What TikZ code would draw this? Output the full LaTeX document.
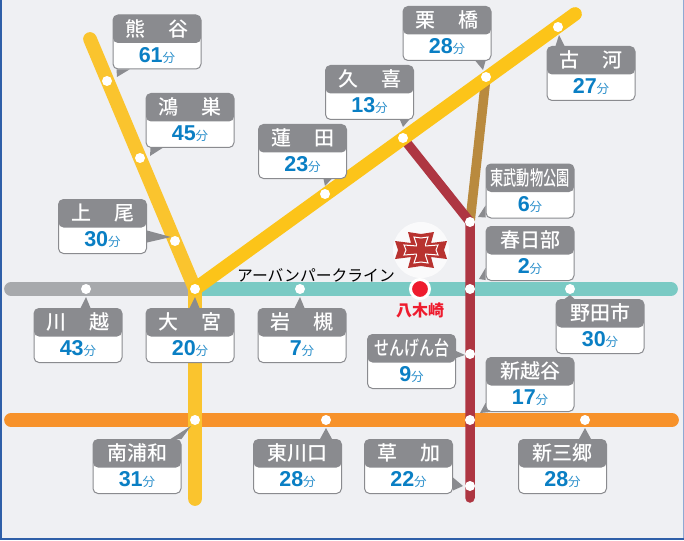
\documentclass[tikz,border=0pt]{standalone}
\usepackage{fontspec}
\setmainfont{Liberation Sans}
\newfontfamily\jpfont{Noto Sans CJK JP}
\newfontfamily\jpmedium{Noto Sans CJK JP Medium}
\usetikzlibrary{calc,backgrounds}

\definecolor{paper}{HTML}{EFF0F3}
\definecolor{headgray}{HTML}{8A8B8F}
\definecolor{minblue}{HTML}{0A7FC4}
\definecolor{funblue}{HTML}{2A8FCB}
\definecolor{takasaki}{HTML}{FAC42E}
\definecolor{utsunomiya}{HTML}{FCC419}
\definecolor{kawagoeline}{HTML}{A7A9AC}
\definecolor{urbanpark}{HTML}{7ACAC4}
\definecolor{musashino}{HTML}{F7922A}
\definecolor{tobuline}{HTML}{AE3642}
\definecolor{nikkoline}{HTML}{B98A3E}
\definecolor{yagired}{HTML}{EE1C2E}
\definecolor{crestred}{HTML}{B8322F}
\definecolor{frameblue}{HTML}{2F5FA8}
\definecolor{frameside}{HTML}{8FA9D3}

\tikzset{
  stop/.style={circle,fill=white,inner sep=0pt,minimum size=10pt},
  farebox/.style={draw=headgray,line width=1pt,fill=white,rounded corners=5pt,anchor=north west,
    minimum width=88pt,minimum height=54pt,inner sep=0pt,
    path picture={\fill[headgray] (path picture bounding box.north west) rectangle
      ($(path picture bounding box.north east)+(0,28)$);}},
  titletext/.style={text=white,font=\jpmedium\fontsize{20}{20}\selectfont,inner sep=0pt},
  minstext/.style={text=minblue,font=\bfseries\fontsize{21.5}{21.5}\selectfont,inner sep=0pt},
  tail/.style={fill=headgray},
  railline/.style={line width=13.7pt,line cap=round},
  thinline/.style={line width=9.5pt,line cap=round}
}

% #1 name, #2 top left corner, #3 title, #4 minutes
\newcommand\farenode[4]{
  \node[farebox] (#1B) at (#2) {};
  \node[titletext] (#1T) at ($(#1B.north)+(0,14)$) {#3};
  \node[minstext] (#1M) at ($(#1B.north)+(0,41)$) {#4{\jpfont\mdseries\color{funblue}\fontsize{12.5}{12.5}\selectfont 分}};
}
\newcommand\gap{\hspace{23pt}}

\begin{document}
\begin{tikzpicture}[x=1pt,y=-1pt]
\useasboundingbox (0,0) rectangle (684,540);

 % Stops
\node[stop] (kumagaya) at (107,81) {};
\node[stop] (konosu) at (140,158) {};
\node[stop] (ageo) at (175,241) {};
\node[stop] (omiya) at (195,289) {};
\node[stop] (hasuda) at (325,194) {};
\node[stop] (kuki) at (403,138) {};
\node[stop] (kurihashi) at (486,77) {};
\node[stop] (koga) at (558,27) {};
\node[stop] (dobutsu) at (470,222) {};
\node[stop] (kasukabe) at (470,289) {};
\node[stop] (kawagoe) at (86,289) {};
\node[stop] (iwatsuki) at (300,289) {};
\node[stop] (noda) at (570,289) {};
\node[stop] (sengendai) at (470,354) {};
\node[stop] (koshigaya) at (470,420) {};
\node[stop] (urawa) at (195,420) {};
\node[stop] (kawaguchi) at (326,420) {};
\node[stop] (soka) at (470,486) {};
\node[stop] (misato) at (585,420) {};

\coordinate (takasakiEnd) at (90,39);
\coordinate (kyotoEnd) at (195,499);
\coordinate (utsuEnd) at (575,14);
\coordinate (kawagoeEnd) at (11,289);
\coordinate (parkEnd) at (671,289);
\coordinate (musaWest) at (11,420);
\coordinate (musaEast) at (672,420);
\coordinate (tobuEnd) at (470,498);

 % Fare boxes
\farenode{kumagaya}{112.5,14.5}{熊\gap 谷}{61}
\farenode{konosu}{145.5,93}{鴻\gap 巣}{45}
\farenode{ageo}{58,199}{上\gap 尾}{30}
\farenode{hasuda}{258,124}{蓮\gap 田}{23}
\farenode{kuki}{325,65}{久\gap 喜}{13}
\farenode{kurihashi}{402.5,6}{栗\gap 橋}{28}
\farenode{koga}{546.5,46}{古\gap 河}{27}
\farenode{dobutsu}{485.5,163.5}{\scalebox{0.66}[1]{東武動物公園}}{6}
\farenode{kasukabe}{485.5,226}{春日部}{2}
\farenode{kawagoe}{33.5,308}{川\gap 越}{43}
\farenode{omiya}{145.5,308}{大\gap 宮}{20}
\farenode{iwatsuki}{257.5,308}{岩\gap 槻}{7}
\farenode{noda}{555.5,299}{野田市}{30}
\farenode{sengendai}{367,334}{\scalebox{0.75}[1]{せんげん台}}{9}
\farenode{koshigaya}{485.5,357}{新越谷}{17}
\farenode{urawa}{92.5,439}{南浦和}{31}
\farenode{kawaguchi}{253,439}{東川口}{28}
\farenode{soka}{364,439}{草\gap 加}{22}
\farenode{misato}{518,439}{新三郷}{28}

 % Yagisaki and the crest
\node[circle,fill=yagired,draw=white,line width=3pt,minimum size=19pt,inner sep=0pt] (yagisaki) at (420,289) {};
\node[text=yagired,font=\jpfont\bfseries\fontsize{16}{16}\selectfont,inner sep=0pt] (yagilabel) at (420,310) {八木崎};
\node[font=\jpfont\fontsize{15.8}{15.8}\selectfont,inner sep=0pt] (parklabel) at (316,275) {アーバンパークライン};

\node[circle,fill=white!70!paper,minimum size=56pt,inner sep=0pt] (crest) at (421,250) {};
\fill[crestred] ($(crest)+(-13,-18)$) -- ++(13,2) -- ++(13,-2) -- ++(-3,11) -- ++(16,-2) -- ++(-3,9)
  -- ++(3,9) -- ++(-16,-2) -- ++(3,11) -- ++(-13,-2) -- ++(-13,2) -- ++(3,-11) -- ++(-16,2)
  -- ++(3,-9) -- ++(-3,-9) -- ++(16,2) -- cycle;
\draw[white,line width=1pt] ($(crest)+(-7,-13)$) -- ++(7,1) -- ++(7,-1) -- ++(-3,9) -- ++(13,-1) -- ++(-2,5)
  -- ++(2,5) -- ++(-13,-1) -- ++(3,9) -- ++(-7,-1) -- ++(-7,1) -- ++(3,-9) -- ++(-13,1)
  -- ++(2,-5) -- ++(-2,-5) -- ++(13,1) -- cycle;
\fill[crestred] ($(crest)+(-4,-5)$) rectangle ($(crest)+(4,5)$);

 % Lines and tails
\begin{scope}[on background layer]
\fill[paper] (0,0) rectangle (684,540);
\draw[frameside,line width=1pt] (683.5,0) -- (683.5,540);
\draw[frameblue,line width=2pt] (1,0) -- (1,539) -- (684,539);

\draw[railline,kawagoeline] (kawagoeEnd) -- (omiya.center);
\draw[railline,urbanpark] (omiya.center) -- (parkEnd);
\draw[railline,musashino] (musaWest) -- (musaEast);
\draw[thinline,nikkoline] (kurihashi.center) -- (dobutsu.center);
\draw[thinline,tobuline,line join=round] (kuki.center) -- (dobutsu.center) -- (tobuEnd);
\draw[railline,takasaki] (takasakiEnd) -- (omiya.center) -- (kyotoEnd);
\draw[railline,utsunomiya] (omiya.center) -- (utsuEnd);

\fill[tail] ($(kumagayaB.south west)+(4,0)$) -- ++(13,0) -- ($(kumagaya)+(10,-4)$) -- cycle;
\fill[tail] ($(konosuB.south west)+(5,0)$) -- ++(12,0) -- ($(konosu)+(10,-2)$) -- cycle;
\fill[tail] ($(ageoB.east)+(0,4)$) -- ++(0,12) -- ($(ageo)+(-4,-4)$) -- cycle;
\fill[tail] ($(hasudaB.south)+(21,0)$) -- ++(8,0) -- ($(hasuda)+(0,-8)$) -- cycle;
\fill[tail] ($(kukiB.south east)+(-14,0)$) -- ++(9,0) -- ($(kuki)+(0,-11)$) -- cycle;
\fill[tail] ($(kurihashiB.south east)+(-16,0)$) -- ++(10,0) -- ($(kurihashi)+(-3,-7)$) -- cycle;
\fill[tail] ($(kogaB.north west)+(9,0)$) -- ++(9,0) -- ($(koga)+(1,8)$) -- cycle;
\fill[tail] ($(dobutsuB.south west)+(0,-13)$) -- ++(0,12) -- ($(dobutsu)+(8,-5)$) -- cycle;
\fill[tail] ($(kasukabeB.south west)+(0,-13)$) -- ++(0,12) -- ($(kasukabe)+(9,-10)$) -- cycle;
\fill[tail] ($(kawagoeB.north west)+(47,0)$) -- ++(10,0) -- ($(kawagoe)+(0,8)$) -- cycle;
\fill[tail] ($(omiyaB.north west)+(44,0)$) -- ++(10,0) -- ($(omiya)+(0,8)$) -- cycle;
\fill[tail] ($(iwatsukiB.north west)+(37,0)$) -- ++(10,0) -- ($(iwatsuki)+(0,8)$) -- cycle;
\fill[tail] ($(nodaB.north west)+(9,0)$) -- ++(10,0) -- ($(noda)+(0,6)$) -- cycle;
\fill[tail] ($(sengendaiB.north east)+(0,17)$) -- ++(0,7) -- ($(sengendai)+(-5,1)$) -- cycle;
\fill[tail] ($(koshigayaB.south west)+(0,-9)$) -- ++(5,9) -- ($(koshigaya)+(10,-7)$) -- cycle;
\fill[tail] ($(urawaB.north east)+(-11,0)$) -- ++(11,0) -- ($(urawa)+(-4,6)$) -- cycle;
\fill[tail] ($(kawaguchiB.north west)+(67,0)$) -- ++(12,0) -- ($(kawaguchi)+(0,8)$) -- cycle;
\fill[tail] ($(sokaB.east)+(0,11)$) -- ++(0,13) -- ($(soka)+(-7,0)$) -- cycle;
\fill[tail] ($(misatoB.north west)+(61,0)$) -- ++(12,0) -- ($(misato)+(0,8)$) -- cycle;
\end{scope}

\end{tikzpicture}
\end{document}
